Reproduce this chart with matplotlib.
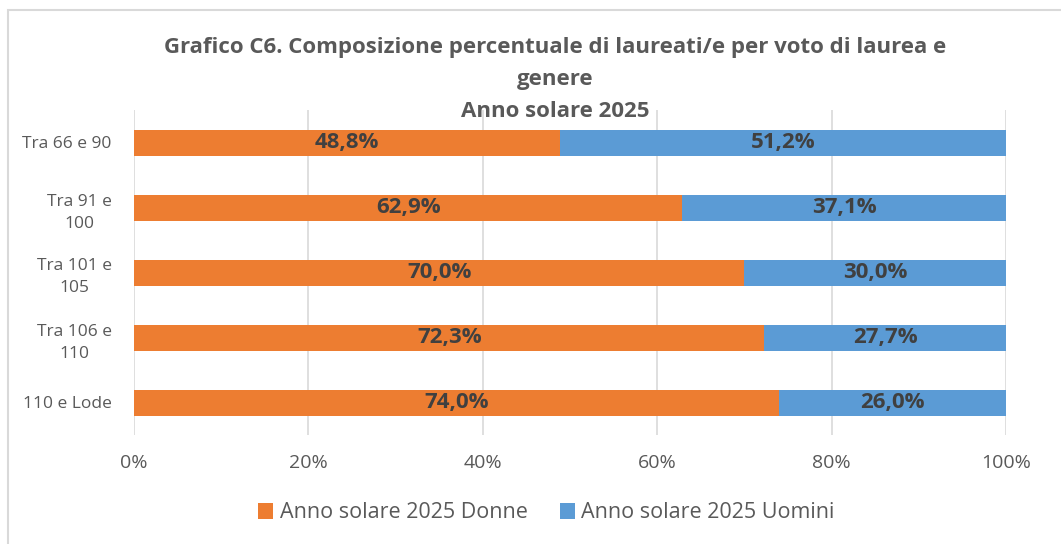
import matplotlib
matplotlib.use("Agg")
import matplotlib.pyplot as plt
from matplotlib.patches import Rectangle

categories = ["Tra 66 e 90", "Tra 91 e\n100", "Tra 101 e\n105", "Tra 106 e\n110", "110 e Lode"]
donne = [48.8, 62.9, 70.0, 72.3, 74.0]
uomini = [51.2, 37.1, 30.0, 27.7, 26.0]
xticks = [0, 20, 40, 60, 80, 100]
series_names = ["Anno solare 2025 Donne", "Anno solare 2025 Uomini"]
title = "Grafico C6. Composizione percentuale di laureati/e per voto di laurea e\ngenere\nAnno solare 2025"

plt.rcParams['font.family'] = ['Open Sans', 'DejaVu Sans']
W, H = 1061, 544
fig = plt.figure(figsize=(W/100, H/100), dpi=100)
ax = fig.add_axes([134/W, 1-435/H, (1006-134)/W, 325/H])

orange = "#ED7D31"
blue = "#5B9BD5"
ypos = list(range(len(categories)))
bh = 0.4
ax.barh(ypos, donne, height=bh, color=orange, label=series_names[0], zorder=3)
ax.barh(ypos, uomini, left=donne, height=bh, color=blue, label=series_names[1], zorder=3)
for y, d, u in zip(ypos, donne, uomini):
    ax.text(d/2, y, f"{d:.1f}%".replace(".", ","), ha="center", va="center",
            fontsize=16, fontweight="bold", color="#404040", zorder=4)
    ax.text(d + u/2, y, f"{u:.1f}%".replace(".", ","), ha="center", va="center",
            fontsize=16, fontweight="bold", color="#404040", zorder=4)

ax.tick_params(length=0)
ax.tick_params(axis="x", pad=14)
ax.tick_params(axis="y", pad=16)
ax.set_xlim(0, 100)
ax.set_ylim(len(categories)-0.5, -0.5)
ax.set_yticks(ypos)
ax.set_yticklabels(categories, fontsize=12.5, color="#595959", linespacing=1.5)
ax.set_xticks(xticks)
ax.set_xticklabels([f"{t}%" for t in xticks], fontsize=14, color="#595959")
ax.grid(axis="x", color="#D9D9D9", linewidth=1.2, zorder=0)
for s in ax.spines.values():
    s.set_visible(False)
for lbl in ax.get_yticklabels():
    lbl.set_multialignment("center")

fig.text(0.523, 1-37/H, title, ha="center", va="top", fontsize=16,
         fontweight="bold", color="#595959", linespacing=1.68)
fig.legend(loc="center", bbox_to_anchor=(0.515, 1-513/H), ncol=2, frameon=False,
           fontsize=15.5, labelcolor="#595959", handlelength=0.7, handleheight=0.7,
           handletextpad=0.3, columnspacing=1.5)

fig.patches.append(Rectangle((8/W, -0.1), 1.2, 1-10/H+0.1, transform=fig.transFigure,
                             fill=False, edgecolor="#D9D9D9", linewidth=1.5))
fig.savefig("out.png", dpi=100)
